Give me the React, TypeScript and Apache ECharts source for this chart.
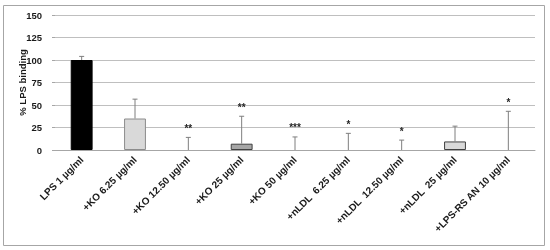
import React, { useEffect, useRef } from "react";
import * as echarts from "echarts";

const categories = [
  "LPS 1 µg/ml",
  "+KO 6.25 µg/ml",
  "+KO 12.50 µg/ml",
  "+KO 25 µg/ml",
  "+KO 50 µg/ml",
  "+nLDL  6.25 µg/ml",
  "+nLDL  12.50 µg/ml",
  "+nLDL  25 µg/ml",
  "+LPS-RS AN 10 µg/ml",
];
const values = [100, 35, 0, 7, 0, 0, 0, 9.5, 0];
const errors = [4, 21.5, 14, 30.5, 14.5, 18.5, 11, 17, 43];
const stars = ["", "", "**", "**", "***", "*", "*", "", "*"];
const barColors = ["#000000", "#d9d9d9", "#d9d9d9", "#a6a6a6", "#d9d9d9", "#d9d9d9", "#d9d9d9", "#d9d9d9", "#d9d9d9"];
const barBorders = ["#000000", "#8c8c8c", "#404040", "#404040", "#404040", "#404040", "#404040", "#404040", "#404040"];
const yTicks = [0, 25, 50, 75, 100, 125, 150];

export default function App() {
  const ref = useRef<HTMLDivElement>(null);
  useEffect(() => {
    if (!ref.current) return;
    const chart = echarts.init(ref.current, undefined, { renderer: "svg" });
    const font = "'Liberation Sans', Arial, sans-serif";
    chart.setOption({
      animation: false,
      graphic: [
        {
          type: "rect",
          shape: { x: 3.5, y: 5.5, width: 541, height: 240 },
          style: { fill: "none", stroke: "#a6a6a6", lineWidth: 1 },
          silent: true,
        },
      ],
      grid: { left: 55, right: 15, top: 15, bottom: 100 },
      xAxis: {
        type: "category",
        data: categories,
        axisLine: { show: true, lineStyle: { color: "#a6a6a6", width: 1 } },
        axisTick: { show: false },
        axisLabel: {
          rotate: 45,
          interval: 0,
          margin: 8,
          fontFamily: font,
          fontWeight: "bold",
          fontSize: 10,
          color: "#1a1a1a",
        },
      },
      yAxis: {
        type: "value",
        min: yTicks[0],
        max: yTicks[yTicks.length - 1],
        interval: 25,
        name: "% LPS binding",
        nameLocation: "middle",
        nameGap: 28,
        nameMoveOverlap: false,
        nameTextStyle: { fontFamily: font, fontWeight: "bold", fontSize: 9.5, color: "#1a1a1a" },
        axisLine: { show: false },
        axisTick: { show: true, length: 3, lineStyle: { color: "#a6a6a6" } },
        axisLabel: { fontFamily: font, fontWeight: "bold", fontSize: 9.5, color: "#1a1a1a", margin: 13 },
        splitLine: { show: true, lineStyle: { color: "#bfbfbf", width: 1 } },
      },
      series: [
        {
          type: "bar",
          barWidth: "41%",
          data: values.map((v, i) => ({
            value: v,
            itemStyle: { color: barColors[i], borderColor: barBorders[i], borderWidth: v > 0 ? 1 : 0 },
          })),
        },
        {
          type: "custom",
          z: 5,
          data: values.map((v, i) => [i, v, v + errors[i]]),
          renderItem: (params: any, api: any) => {
            const x = api.value(0);
            const lo = api.coord([x, api.value(1)]);
            const hi = api.coord([x, api.value(2)]);
            const label = stars[params.dataIndex];
            const children: any[] = [
              {
                type: "line",
                shape: { x1: lo[0], y1: lo[1], x2: hi[0], y2: hi[1] },
                style: { stroke: "#7f7f7f", lineWidth: 1 },
              },
              {
                type: "line",
                shape: { x1: hi[0] - 2.5, y1: hi[1], x2: hi[0] + 2.5, y2: hi[1] },
                style: { stroke: "#7f7f7f", lineWidth: 1 },
              },
            ];
            if (label) {
              children.push({
                type: "text",
                style: {
                  text: label,
                  x: hi[0],
                  y: hi[1] - 9,
                  align: "center",
                  verticalAlign: "middle",
                  fontFamily: font,
                  fontWeight: "bold",
                  fontSize: 10,
                  fill: "#262626",
                },
              });
            }
            return { type: "group", children };
          },
        },
      ],
    });
    return () => chart.dispose();
  }, []);
  return <div ref={ref} style={{ position: "fixed", left: 0, top: 0, width: 550, height: 250 }} />;
}
